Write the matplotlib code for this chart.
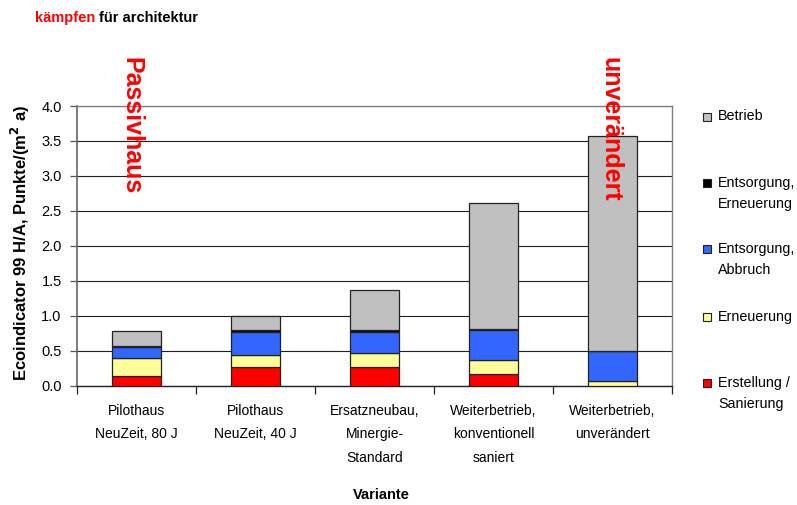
import matplotlib
matplotlib.use("Agg")
import matplotlib.pyplot as plt
import numpy as np
from matplotlib.patches import Rectangle

categories = ["Pilothaus\nNeuZeit, 80 J", "Pilothaus\nNeuZeit, 40 J",
              "Ersatzneubau,\nMinergie-\nStandard", "Weiterbetrieb,\nkonventionell\nsaniert",
              "Weiterbetrieb,\nunverändert"]
erstellung = [0.13, 0.27, 0.27, 0.16, 0.0]
erneuerung = [0.26, 0.16, 0.20, 0.20, 0.065]
entsorgung_abbruch = [0.16, 0.34, 0.30, 0.44, 0.43]
entsorgung_erneuerung = [0.02, 0.02, 0.02, 0.015, 0.005]
betrieb = [0.21, 0.21, 0.575, 1.80, 3.07]

series_names = ["Erstellung /\nSanierung", "Erneuerung", "Entsorgung,\nAbbruch",
                "Entsorgung,\nErneuerung", "Betrieb"]
series_vals = [erstellung, erneuerung, entsorgung_abbruch, entsorgung_erneuerung, betrieb]
colors = ["#FF0000", "#FFFF99", "#3366FF", "#000000", "#C0C0C0"]

yticks = [0.0, 0.5, 1.0, 1.5, 2.0, 2.5, 3.0, 3.5, 4.0]

W, H = 797, 505
fig = plt.figure(figsize=(W / 100, H / 100), dpi=100)
ax = fig.add_axes([77 / W, 1 - 385.5 / H, (672 - 77) / W, (385.5 - 106) / H])

x = np.arange(len(categories))
bottom = np.zeros(len(categories))
for vals, col, name in zip(series_vals, colors, series_names):
    ax.bar(x, vals, width=0.41, bottom=bottom, color=col, edgecolor="#222222",
           linewidth=0.9, zorder=3, label=name)
    bottom += np.array(vals)

ax.set_xlim(-0.5, len(categories) - 0.5)
ax.set_ylim(0, 4.0)
ax.set_yticks(yticks)
ax.set_yticklabels([f"{v:.1f}" for v in yticks], fontsize=10.5, family="Liberation Sans")
ax.yaxis.grid(True, color="#202020", linewidth=0.8, zorder=0)
ax.set_axisbelow(True)

ax.set_xticks(x)
ax.set_xticklabels(categories, fontsize=10, family="Liberation Sans",
                   linespacing=1.9, va="top")
ax.set_xticks(np.arange(-0.5, len(categories)), minor=True)
ax.tick_params(axis="x", which="major", length=0, pad=13)
ax.tick_params(axis="x", which="minor", length=6, color="#222222", width=0.9)
ax.tick_params(axis="y", which="major", length=5, color="#555555", width=0.9, pad=6)

for s in ["top", "right"]:
    ax.spines[s].set_color("#808080")
    ax.spines[s].set_linewidth(1.0)
ax.spines["left"].set_color("#666666")
ax.spines["left"].set_linewidth(1.2)
ax.spines["bottom"].set_color("#222222")
ax.spines["bottom"].set_linewidth(1.0)

# axis labels
fig.text(20 / W, 1 - 243 / H, r"Ecoindicator 99 H/A, Punkte/(m$^\mathbf{2}$ a)", rotation=90,
         ha="center", va="center", fontsize=12, fontweight="bold", family="Liberation Sans")
fig.text(381 / W, 1 - 495 / H, "Variante", ha="center", va="center", fontsize=10.5,
         fontweight="bold", family="Liberation Sans")

# annotations
ax.text(-0.04, 4.7, "Passivhaus", rotation=-90, ha="center", va="top", color="#FF0000",
        fontsize=18, fontweight="bold", family="Liberation Sans", clip_on=False, zorder=5)
ax.text(3.98, 4.7, "unverändert", rotation=-90, ha="center", va="top", color="#FF0000",
        fontsize=18, fontweight="bold", family="Liberation Sans", clip_on=False, zorder=5)

# title
t1 = fig.text(35 / W, 1 - 18 / H, "kämpfen ", color="#FF0000", fontsize=10.5, fontweight="bold",
              family="Liberation Sans", ha="left", va="center")
fig.canvas.draw()
bb = t1.get_window_extent()
fig.text(bb.x1 / W, 1 - 18 / H, "für architektur", color="#000000", fontsize=10.5,
         fontweight="bold", family="Liberation Sans", ha="left", va="center")

# legend (manual, top to bottom)
leg_y = [117, 183, 249, 317, 383]
for name, col, yy in zip(series_names[::-1], colors[::-1], leg_y):
    fig.patches.append(Rectangle((703 / W, 1 - (yy + 4) / H), 8 / W, 8 / H,
                                 transform=fig.transFigure, facecolor=col,
                                 edgecolor="#222222", linewidth=0.8))
    fig.text(718 / W, 1 - (yy - 7.5) / H, name, ha="left", va="top", fontsize=10.3,
             family="Liberation Sans", linespacing=1.65)

fig.savefig("out.png", dpi=100)
